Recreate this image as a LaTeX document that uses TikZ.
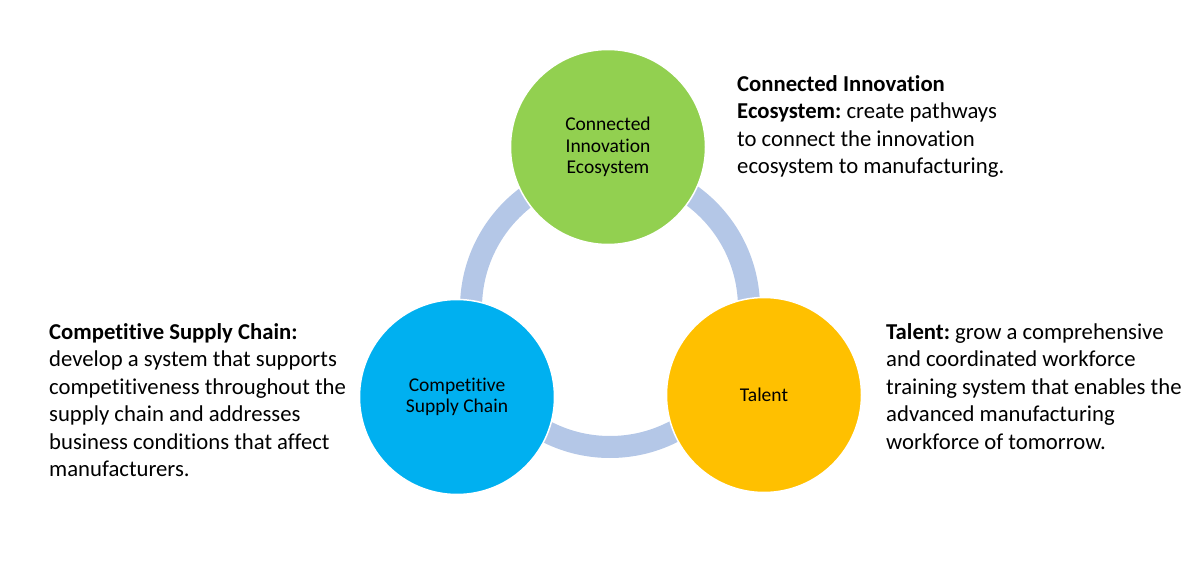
\documentclass[tikz,border=0pt]{standalone}
\usepackage{fontspec}
\setmainfont{Carlito}[Ligatures=NoCommon]
\usepackage{tikz}
\usepackage{xcolor}
\usetikzlibrary{positioning}
\definecolor{ringblue}{HTML}{B4C7E7}
\definecolor{cie}{HTML}{92D050}
\definecolor{csc}{HTML}{00B0F0}
\definecolor{tal}{HTML}{FFC000}
\frenchspacing

\tikzset{
  pillar/.style={circle,draw=white,line width=1.5pt,minimum size=195pt,inner sep=0pt,
    align=center,font=\fontsize{19.5}{21.5}\selectfont},
  desc/.style={anchor=north west,inner sep=0pt,align=left,font=\fontsize{22.7}{27.5}\selectfont}
}

\begin{document}
\begin{tikzpicture}[x=1pt,y=-1pt]
\useasboundingbox (0,0) rectangle (1200,572);
\coordinate (mid) at (610,308);
\draw[ringblue,line width=22pt] (mid) circle (139);

\node[pillar,fill=cie] (ecosys) at (608,147) {Connected\\Innovation\\Ecosystem};
\node[pillar,fill=csc] (supply) at (457,397) {Competitive\\Supply Chain};
\node[pillar,fill=tal] (talent) at (764,395) {Talent};

\node[desc] (ecosystxt) at (737,75) {\textbf{Connected Innovation}\\\textbf{Ecosystem:} create pathways\\to connect the innovation\\ecosystem to manufacturing.};
\node[desc] (supplytxt) at (49,323) {\textbf{Competitive Supply Chain:}\\develop a system that supports\\competitiveness throughout the\\supply chain and addresses\\business conditions that affect\\manufacturers.};
\node[desc] (talenttxt) at (886,323) {\textbf{Talent:} grow a comprehensive\\and coordinated workforce\\training system that enables the\\advanced manufacturing\\workforce of tomorrow.};
\end{tikzpicture}
\end{document}
